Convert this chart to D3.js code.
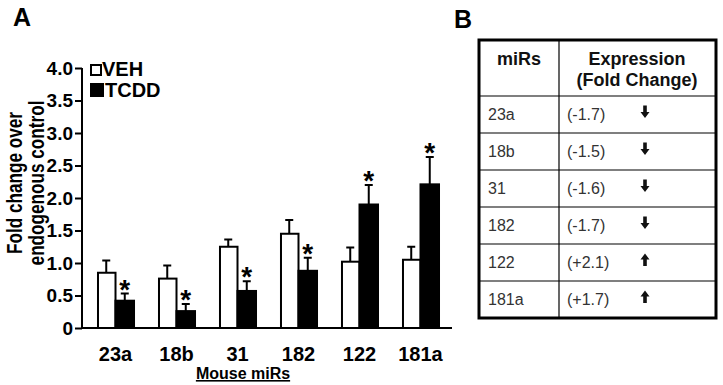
<!DOCTYPE html>
<html>
<head>
  <meta charset="UTF-8">
  <title>miRNA fold change</title>
  <script src="https://d3js.org/d3.v7.min.js"></script>
  <style>
    body { margin: 0; padding: 0; background: #fff; }
    svg { display: block; font-family: "Liberation Sans", Arial, sans-serif; }
    .ytick { font-size: 19px; font-weight: bold; }
    .xtick { font-size: 20px; font-weight: bold; }
    .tbl-txt { font-size: 16px; fill: #333; }
    .tbl-head { font-size: 18px; font-weight: bold; fill: #111; }
  </style>
</head>
<body>
  <div id="chart"></div>
  <script>
    // panel A data
    const mirs = ["23a", "18b", "31", "182", "122", "181a"];
    const vehMean = [0.85, 0.76, 1.25, 1.45, 1.02, 1.05];
    const vehErr  = [0.19, 0.20, 0.11, 0.21, 0.22, 0.20];
    const tcddMean = [0.42, 0.26, 0.57, 0.88, 1.90, 2.21];
    const tcddErr  = [0.11, 0.11, 0.15, 0.20, 0.30, 0.42];
    const yTicks = [0, 0.5, 1.0, 1.5, 2.0, 2.5, 3.0, 3.5, 4.0];

    // panel B data
    const tableMirs = ["23a", "18b", "31", "182", "122", "181a"];
    const tableFold = ["(-1.7)", "(-1.5)", "(-1.6)", "(-1.7)", "(+2.1)", "(+1.7)"];
    const tableDir  = ["down", "down", "down", "down", "up", "up"];

    const width = 723, height = 385;
    const svg = d3.select("#chart").append("svg")
      .attr("width", width).attr("height", height);

    // ---------- Panel A ----------
    const x = d3.scaleBand().domain(mirs).range([84, 452])
      .paddingInner(0.393).paddingOuter(0.213);
    const xs = d3.scaleBand().domain(["VEH", "TCDD"]).range([0, x.bandwidth()]);
    const y = d3.scaleLinear().domain([0, 4]).range([328, 68]);

    svg.append("text").attr("x", 13).attr("y", 26)
      .attr("font-size", 25).attr("font-weight", "bold").text("A");

    // y axis
    const yAxis = svg.append("g").attr("transform", "translate(82,0)")
      .call(d3.axisLeft(y).tickValues(yTicks).tickSize(7).tickPadding(2)
        .tickFormat(d => d === 0 ? "0" : d3.format(".1f")(d)));
    yAxis.select(".domain").attr("stroke-width", 2).attr("d", "M0,68V328");
    yAxis.selectAll(".tick line").attr("stroke-width", 2);
    yAxis.selectAll(".tick text").attr("class", "ytick").attr("fill", "#000")
      .attr("font-family", null).attr("font-size", null);

    // x axis line + labels
    svg.append("line").attr("x1", 81).attr("x2", 452)
      .attr("y1", y(0)).attr("y2", y(0)).attr("stroke", "#000").attr("stroke-width", 2);
    svg.selectAll(".xlbl").data(mirs).enter().append("text")
      .attr("class", "xtick")
      .attr("x", d => x(d) + x.bandwidth() / 2).attr("y", 361)
      .attr("text-anchor", "middle").text(d => d);

    svg.append("text").attr("font-size", 16).attr("font-weight", "bold")
      .attr("x", 243).attr("y", 379).attr("text-anchor", "middle")
      .attr("text-decoration", "underline").text("Mouse miRs");

    // y title (condensed look)
    const yt = svg.append("text").attr("font-size", 22).attr("font-weight", "bold")
      .attr("transform", "translate(0,183) rotate(-90) scale(0.78,1)").attr("text-anchor", "middle");
    yt.append("tspan").attr("x", 0).attr("y", 22).text("Fold change over");
    yt.append("tspan").attr("x", 0).attr("y", 44).text("endogenous control");

    const rows = mirs.map((m, i) => [
      { m, g: "VEH", v: vehMean[i], e: vehErr[i], sig: false },
      { m, g: "TCDD", v: tcddMean[i], e: tcddErr[i], sig: true }
    ]).flat();

    const bw = xs.bandwidth();
    const bars = svg.append("g");
    // error bars (upper only)
    bars.selectAll(".err").data(rows).enter().append("path")
      .attr("fill", "none").attr("stroke", "#000").attr("stroke-width", 2)
      .attr("d", d => {
        const cx = x(d.m) + xs(d.g) + bw / 2;
        return `M${cx},${y(d.v)}V${y(d.v + d.e)}M${cx - 4},${y(d.v + d.e)}H${cx + 4}`;
      });
    bars.selectAll("rect").data(rows).enter().append("rect")
      .attr("x", d => x(d.m) + xs(d.g) + (d.g === "VEH" ? 1 : 0))
      .attr("y", d => y(d.v))
      .attr("width", d => d.g === "VEH" ? bw - 1 : bw)
      .attr("height", d => y(0) - y(d.v))
      .attr("fill", d => d.g === "VEH" ? "#fff" : "#000")
      .attr("stroke", "#000").attr("stroke-width", 2);
    bars.selectAll(".star").data(rows.filter(d => d.sig)).enter().append("text")
      .attr("x", d => x(d.m) + xs(d.g) + bw / 2)
      .attr("y", d => y(d.v + d.e) + 5)
      .attr("text-anchor", "middle").attr("font-size", 28).attr("font-weight", "bold")
      .text("*");

    // legend
    const leg = svg.append("g");
    [["VEH", "#fff", 65, 10, 102], ["TCDD", "#000", 84, 12, 105]].forEach(([lbl, f, ly, s, tx]) => {
      leg.append("rect").attr("x", 91).attr("y", ly).attr("width", s).attr("height", s)
        .attr("fill", f).attr("stroke", "#000").attr("stroke-width", 2);
      leg.append("text").attr("class", "xtick").attr("font-size", 19)
        .attr("x", tx).attr("y", ly + s + 1).text(lbl);
    });

    // ---------- Panel B ----------
    svg.append("text").attr("x", 454).attr("y", 28)
      .attr("font-size", 25).attr("font-weight", "bold").text("B");

    const tx0 = 479, tx1 = 716, tcol = 559;
    const rowY = d3.scaleBand().domain(tableMirs).range([96, 318]);
    const tb = svg.append("g");
    tb.selectAll(".rl").data(tableMirs).enter().append("line")
      .attr("x1", tx0).attr("x2", tx1)
      .attr("y1", d => rowY(d)).attr("y2", d => rowY(d))
      .attr("stroke", "#000").attr("stroke-width", 1.2);
    tb.append("line").attr("x1", tcol).attr("x2", tcol).attr("y1", 40).attr("y2", 318)
      .attr("stroke", "#000").attr("stroke-width", 1.2);
    tb.append("rect").attr("x", tx0).attr("y", 40).attr("width", tx1 - tx0).attr("height", 278)
      .attr("fill", "none").attr("stroke", "#000").attr("stroke-width", 3);

    tb.append("text").attr("class", "tbl-head").attr("x", 519).attr("y", 65)
      .attr("text-anchor", "middle").text("miRs");
    tb.append("text").attr("class", "tbl-head").attr("x", 637).attr("y", 65)
      .attr("text-anchor", "middle").text("Expression");
    tb.append("text").attr("class", "tbl-head").attr("x", 637).attr("y", 86)
      .attr("text-anchor", "middle").text("(Fold Change)");

    tb.selectAll(".tm").data(tableMirs).enter().append("text").attr("class", "tbl-txt")
      .attr("x", 488).attr("y", d => rowY(d) + rowY.bandwidth() / 2 + 5).text(d => d);
    tb.selectAll(".tf").data(tableMirs).enter().append("text").attr("class", "tbl-txt")
      .attr("x", 567).attr("y", d => rowY(d) + rowY.bandwidth() / 2 + 5)
      .text((d, i) => tableFold[i]);
    tb.selectAll(".ta").data(tableMirs).enter().append("path")
      .attr("fill", "#111")
      .attr("transform", d => `translate(645,${rowY(d) + rowY.bandwidth() / 2 - 3})`)
      .attr("d", (d, i) => tableDir[i] === "down"
        ? "M-1.8,-6H1.8V0.5H4.5L0,6.5L-4.5,0.5H-1.8Z"
        : "M-1.8,6.5H1.8V0H4.5L0,-6L-4.5,0H-1.8Z");
  </script>
</body>
</html>
